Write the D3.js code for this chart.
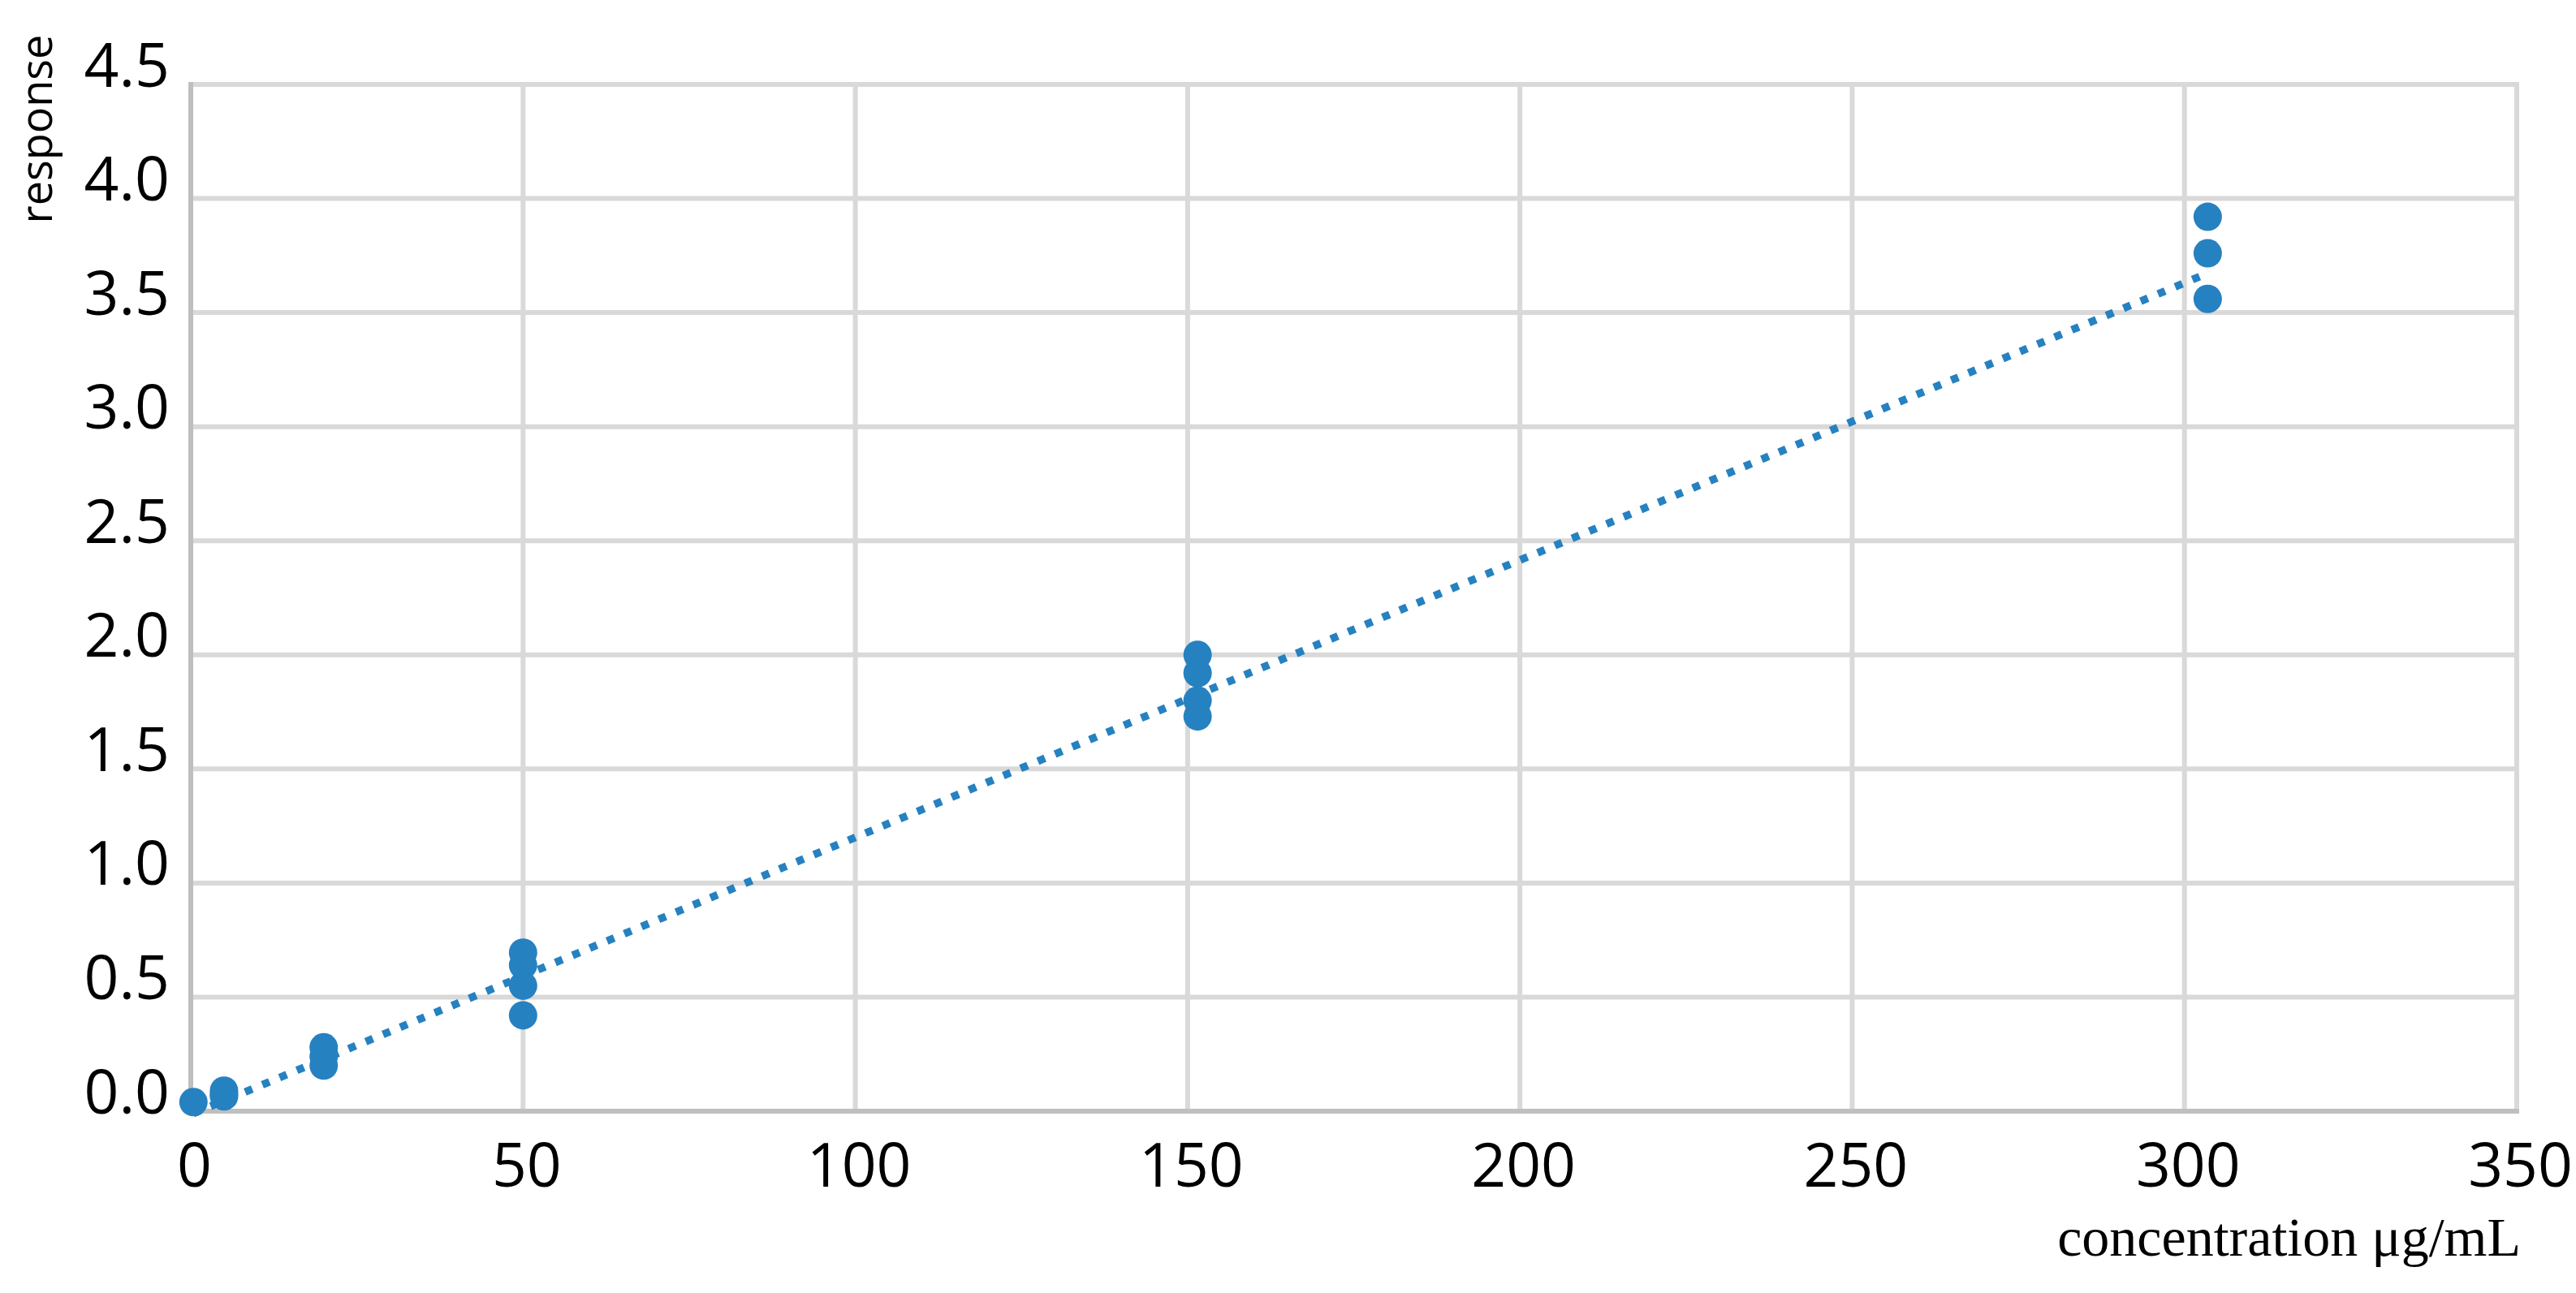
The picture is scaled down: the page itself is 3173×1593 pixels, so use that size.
<!DOCTYPE html>
<html>
<head>
<meta charset="utf-8">
<script src="https://cdn.jsdelivr.net/npm/d3@7"></script>
<style>
  html, body { margin: 0; padding: 0; background: #ffffff; }
  svg { display: block; }
</style>
</head>
<body>
<svg id="chart" width="3173" height="1593"></svg>
<script>
// ---- data ----
const concentrations = [0.4, 5, 5, 5, 20, 20, 20, 50, 50, 50, 50, 151.5, 151.5, 151.5, 151.5, 303.5, 303.5, 303.5];
const responses      = [0.04, 0.065, 0.075, 0.09, 0.20, 0.24, 0.28, 0.42, 0.55, 0.64, 0.695, 1.73, 1.80, 1.92, 2.00, 3.56, 3.76, 3.92];
const xTicks = [0, 50, 100, 150, 200, 250, 300, 350];
const yTicks = [0.0, 0.5, 1.0, 1.5, 2.0, 2.5, 3.0, 3.5, 4.0, 4.5];
const trendSlope = 0.01215;
const trendIntercept = -0.015;
const xTitle = "concentration \u03bcg/mL";
const yTitle = "response";

// ---- layout ----
const svg = d3.select("#chart");
svg.append("rect").attr("width", 3173).attr("height", 1593).attr("fill", "#ffffff");

const x = d3.scaleLinear().domain([0, 350]).range([235, 3100]);
const y = d3.scaleLinear().domain([0, 4.5]).range([1369, 104]);

const blue = "#2681C1";
const gridColor = "#D9D9D9";
const axisColor = "#BFBFBF";

// gridlines
const grid = svg.append("g");
grid.selectAll("line.h").data(yTicks.filter(d => d > 0)).enter().append("line")
  .attr("x1", x(0)).attr("x2", x(350))
  .attr("y1", d => y(d)).attr("y2", d => y(d))
  .attr("stroke", gridColor).attr("stroke-width", 6);
grid.selectAll("line.v").data(xTicks.filter(d => d > 0)).enter().append("line")
  .attr("x1", d => x(d)).attr("x2", d => x(d))
  .attr("y1", y(0)).attr("y2", y(4.5) - 3)
  .attr("stroke", gridColor).attr("stroke-width", 6);

// axes lines
svg.append("line").attr("x1", x(0)).attr("x2", x(0)).attr("y1", y(4.5) - 3).attr("y2", y(0) + 3)
  .attr("stroke", axisColor).attr("stroke-width", 6);
svg.append("line").attr("x1", x(0) - 3).attr("x2", x(350) + 3).attr("y1", y(0)).attr("y2", y(0))
  .attr("stroke", axisColor).attr("stroke-width", 6);

// tick labels via d3 axes (lines hidden)
const yAxis = d3.axisLeft(y).tickValues(yTicks).tickFormat(d3.format(".1f")).tickSize(0).tickPadding(0);
const gy = svg.append("g").attr("transform", "translate(209,0)").call(yAxis);
gy.select(".domain").remove();
gy.selectAll("text")
  .attr("font-family", "'Open Sans', sans-serif").attr("font-size", 75)
  .attr("fill", "#000").attr("dy", "0.32em").attr("y", -22);

const xAxis = d3.axisBottom(x).tickValues(xTicks).tickFormat(d3.format("d")).tickSize(0).tickPadding(0);
const gx = svg.append("g").attr("transform", "translate(4,1462)").call(xAxis);
gx.select(".domain").remove();
gx.selectAll("text")
  .attr("font-family", "'Open Sans', sans-serif").attr("font-size", 75)
  .attr("fill", "#000").attr("dy", 0).attr("y", 0);

// trendline
const xMin = d3.min(concentrations), xMax = d3.max(concentrations);
const trend = [xMin, xMax].map(c => [c, trendIntercept + trendSlope * c]);
svg.append("path")
  .datum(trend)
  .attr("d", d3.line().x(d => x(d[0])).y(d => y(d[1])))
  .attr("fill", "none").attr("stroke", blue).attr("stroke-width", 9.5)
  .attr("stroke-dasharray", "9.5 13.5");

// points
svg.append("g").selectAll("circle").data(concentrations.map((c, i) => [c, responses[i]])).enter()
  .append("circle")
  .attr("cx", d => x(d[0])).attr("cy", d => y(d[1])).attr("r", 17.5)
  .attr("fill", blue);

// axis titles
svg.append("text")
  .attr("transform", "translate(64,159) rotate(-90)")
  .attr("text-anchor", "middle")
  .attr("font-family", "'Open Sans', sans-serif").attr("font-size", 54)
  .attr("fill", "#000")
  .text(yTitle);

svg.append("text")
  .attr("x", 3105).attr("y", 1547)
  .attr("text-anchor", "end")
  .attr("font-family", "'Liberation Serif', serif").attr("font-size", 68)
  .attr("fill", "#000")
  .text(xTitle);
</script>
</body>
</html>
